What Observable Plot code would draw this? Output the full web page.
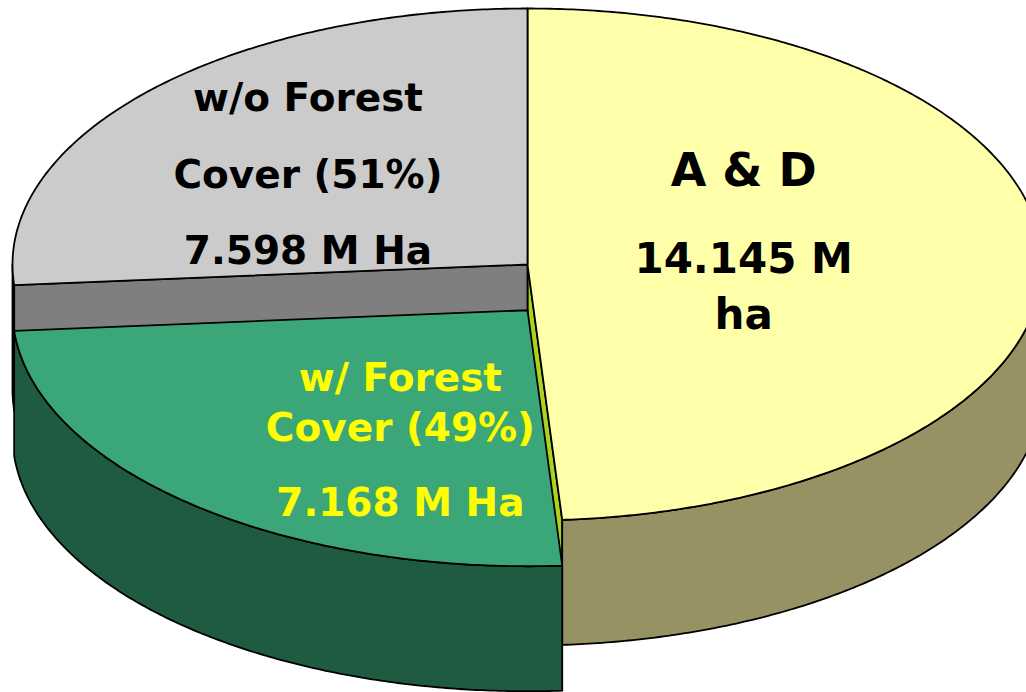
<!DOCTYPE html>
<html>
<head>
<meta charset="utf-8">
<script src="https://cdn.jsdelivr.net/npm/d3@7"></script>
<script src="https://cdn.jsdelivr.net/npm/@observablehq/plot@0.6"></script>
<style>
  html, body { margin: 0; padding: 0; background: #ffffff; }
  #chart svg { display: block; }
</style>
</head>
<body>
<div id="chart"></div>
<script>
// ---------- data ----------
const categories = ["A & D", "w/ Forest Cover", "w/o Forest Cover"];
const values = [14.145, 7.168, 7.598];           // million hectares
const labelLines = [
  ["A & D", "14.145 M", "ha"],
  ["w/ Forest", "Cover (49%)", "7.168 M Ha"],
  ["w/o Forest", "Cover (51%)", "7.598 M Ha"]
];
const explodedSlice = ["w/ Forest Cover"];

// ---------- styles ----------
const topColors  = ["#ffffaa", "#3ba677", "#cbcbcb"];
const sideColors = ["#979263", "#1e5b41", "#7f7f7f"];
const cutColors  = ["#aad21e", "#1e5b41", "#7f7f7f"];
const textColors = ["#000000", "#ffff00", "#000000"];
const labelRadius = [0.42, 0.378, 0.58];
const lineOffsets = [[-75, 12, 68], [7, 57, 132], [-53, 24, 100]];
const lineSizes = [[46, 42, 42], [39, 39, 39], [39, 39, 39]];

// ---------- 3D pie geometry (view parameters) ----------
const W = 1026, H = 692;
const cx = 527, cy = 264, rx = 515, ry = 256, depth = 125;
const explodeDist = 92, explodeDir = Math.PI / 2;   // toward the viewer

const arcs = d3.pie().sort(null).value(d => d)(values);

function offsetFor(i) {
  if (!explodedSlice.includes(categories[i])) return {x: 0, y: 0};
  return {x: explodeDist * Math.cos(explodeDir), y: explodeDist * Math.sin(explodeDir) * ry / rx};
}
function proj(t, r, level, off) {
  return {x: cx + off.x + r * rx * Math.cos(t), y: cy + off.y + r * ry * Math.sin(t) + level * depth};
}
function rim(a0, a1, level, off) {
  const n = Math.max(2, Math.ceil(Math.abs(a1 - a0) / (Math.PI / 360)));
  return d3.range(n + 1).map(k => proj(a0 + (a1 - a0) * k / n, 1, level, off));
}

const faces = { cut: [], side: [], top: [] };
arcs.forEach((a, i) => {
  const a0 = a.startAngle - Math.PI / 2, a1 = a.endAngle - Math.PI / 2;
  const off = offsetFor(i);
  const ex = explodedSlice.includes(categories[i]);
  const c0 = proj(0, 0, 0, off), c1 = proj(0, 0, 1, off);
  // radial cut faces that face the viewer
  if (-Math.cos(a0) > 1e-3) faces.cut.push({i, ex, pts: [c0, proj(a0, 1, 0, off), proj(a0, 1, 1, off), c1, c0]});
  if (Math.cos(a1) > 1e-3) faces.cut.push({i, ex, pts: [c0, proj(a1, 1, 0, off), proj(a1, 1, 1, off), c1, c0]});
  // visible outer wall (front half of the cylinder)
  const s = Math.max(a0, 0), e = Math.min(a1, Math.PI);
  if (e > s) {
    const up = rim(s, e, 0, off), dn = rim(e, s, 1, off);
    faces.side.push({i, ex, pts: [...up, ...dn, up[0]]});
  }
  // top face
  faces.top.push({i, ex, pts: [c0, ...rim(a0, a1, 0, off), c0]});
});

const faceMark = (f, color) => Plot.line(f.pts, {
  x: "x", y: "y", fill: color, stroke: "#000000", strokeWidth: 1.8,
  strokeLinejoin: "round", curve: "linear"
});

const marks = [];
for (const pass of [false, true]) {
  faces.cut.filter(f => f.ex === pass).forEach(f => marks.push(faceMark(f, cutColors[f.i])));
  faces.side.filter(f => f.ex === pass).forEach(f => marks.push(faceMark(f, sideColors[f.i])));
  faces.top.filter(f => f.ex === pass).forEach(f => marks.push(faceMark(f, topColors[f.i])));
}

// labels
arcs.forEach((a, i) => {
  const mid = (a.startAngle + a.endAngle) / 2 - Math.PI / 2;
  const p = proj(mid, labelRadius[i], 0, offsetFor(i));
  const rows = labelLines[i].map((t, k) => ({text: t, x: p.x, y: p.y + lineOffsets[i][k], fs: lineSizes[i][k]}));
  marks.push(Plot.text(rows, {
    x: "x", y: "y", text: "text", fill: textColors[i], fontSize: "fs",
    fontWeight: "bold", fontFamily: "DejaVu Sans",
    textAnchor: "middle", lineAnchor: "bottom"
  }));
});

const chart = Plot.plot({
  width: W, height: H, margin: 0,
  style: {background: "#ffffff", overflow: "hidden"},
  x: {domain: [0, W], range: [0, W], axis: null},
  y: {domain: [0, H], range: [0, H], axis: null},
  marks
});
document.getElementById("chart").appendChild(chart);
</script>
</body>
</html>
